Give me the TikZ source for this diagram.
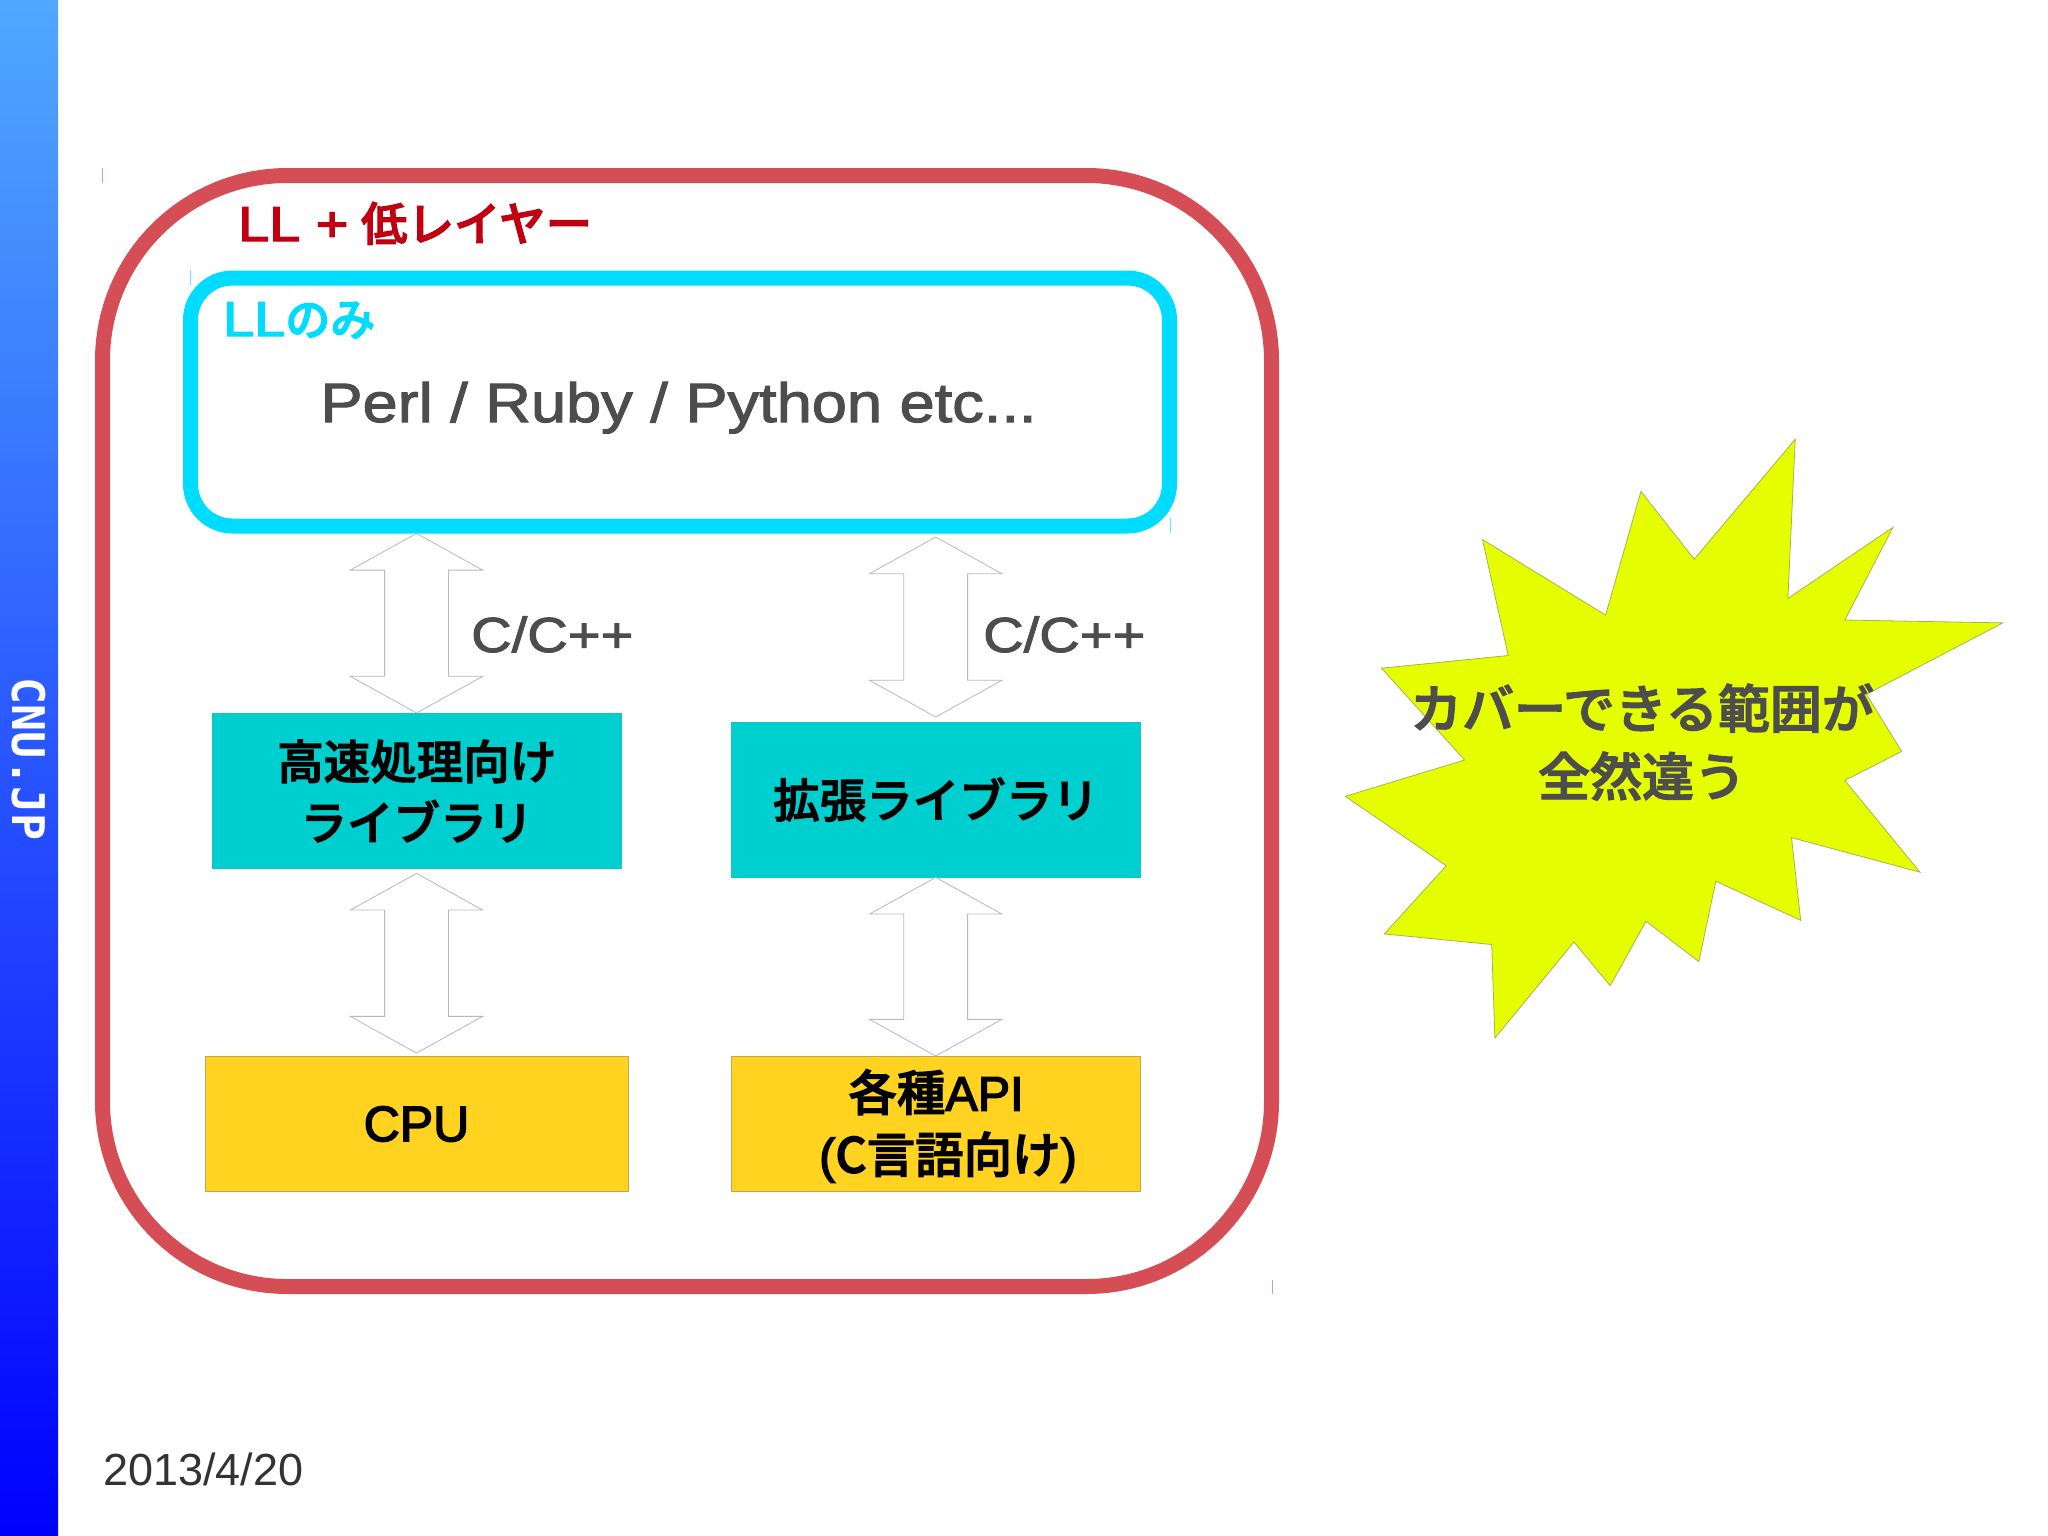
\documentclass[tikz,border=0pt]{standalone}
\usepackage{fontspec}
\setmainfont{Liberation Sans}
\newfontfamily\cjk[FakeBold=2.5]{Noto Sans CJK JP Medium}
\newfontfamily\midsans[FakeBold=3]{Liberation Sans}
\newfontfamily\widesans[FakeStretch=1.14,FakeBold=2]{Liberation Sans}
\newfontfamily\midwide[FakeStretch=1.14,FakeBold=3]{Liberation Sans}
\newfontfamily\barfont{DejaVu Sans Mono}
\usepackage{tikz}
\usetikzlibrary{shapes.arrows}

\definecolor{bartop}{HTML}{50A8FF}
\definecolor{rimred}{HTML}{D64E55}
\definecolor{rimcyan}{HTML}{00DCFF}
\definecolor{labelred}{HTML}{C00010}
\definecolor{tealbox}{HTML}{00CFCF}
\definecolor{yellowbox}{HTML}{FFD320}
\definecolor{burst}{HTML}{E6FF00}
\definecolor{inktext}{HTML}{4D4D4D}

\tikzset{
    frame/.style={draw, rounded corners=#1, inner sep=0pt},
    libbox/.style={draw=tealbox!85!gray, fill=tealbox, line width=1pt, align=center, inner sep=0pt,
        minimum width=409pt, minimum height=155pt, text=black, font=\fontsize{46.5}{61}\selectfont},
    hwbox/.style={draw=gray!50!yellowbox, fill=yellowbox, line width=1pt, inner sep=0pt,
        minimum height=135pt, text=black, font=\fontsize{50}{60}\selectfont\midsans},
    bothway/.style={shape=double arrow, draw=gray!55, fill=white, line width=.8pt, rotate=90,
        inner xsep=0pt, inner ysep=31.5pt, outer sep=0pt,
        minimum width=131.6pt, double arrow head extend=34.3pt, double arrow tip angle=122, minimum height=#1},
    greytext/.style={text=inktext, inner sep=0pt, anchor=base, font=\fontsize{55.4}{66}\selectfont\widesans},
    ticklet/.style={line width=1pt, opacity=.6},
}

\begin{document}
\begin{tikzpicture}[x=1pt,y=-1pt]
    \useasboundingbox (0,0) rectangle (2048,1535);

    \shade[top color=bartop, bottom color=blue] (0,0) rectangle (58,1535);
    \node[rotate=-90, text=white, inner sep=0pt, font=\fontsize{45}{54}\selectfont\bfseries\barfont] (sitename) at (29,759) {CNU.JP};

    % frames
    \node[frame=185pt, draw=rimred, line width=15pt, minimum width=1169pt, minimum height=1111pt] (outer) at (687,731) {};
    \node[frame=42pt, draw=rimcyan, line width=15pt, minimum width=979pt, minimum height=248pt] (inner) at (680,402) {};
    \draw[ticklet, rimred] (102,168) -- (102,183) (1272,1280) -- (1272,1294);
    \draw[ticklet, rimcyan] (190.5,270) -- (190.5,285) (1170,518) -- (1170,533);

    \node[inner sep=0pt, anchor=base west, text=labelred, font=\fontsize{49}{58}\selectfont\midwide] (outerlabel) at (238,241) {LL + \hspace{-3pt}{\fontsize{46.5}{58}\selectfont\cjk 低レイヤー}};
    \node[inner sep=0pt, anchor=base west, text=rimcyan, font=\fontsize{49}{58}\selectfont\midwide] (innerlabel) at (223,336) {LL{\fontsize{45}{58}\selectfont\cjk のみ}};
    \node[greytext] (langs) at (678.5,422) {Perl / Ruby / Python etc...};

    % boxes
    \node[libbox] (speedlib) at (416.8,791) {{\cjk 高速処理向け}\\{\cjk ライブラリ}};
    \node[libbox] (extlib) at (936,799.5) {{\cjk 拡張ライブラリ}};
    \node[hwbox, minimum width=423pt] (cpu) at (416.5,1124) {CPU};
    \node[hwbox, minimum width=409pt] (api) at (936,1124) {};
    \node[align=center, inner sep=0pt, font=\fontsize{48.5}{62}\selectfont\midsans] (apilabel) at (936,1126) {{\cjk 各種}API\\\hspace*{24pt}({\cjk C言語向け})};

    % two way arrows
    \node[bothway=179.6pt] (langstospeed) at (416.5,623.2) {};
    \node[bothway=180pt] (langstoext) at (935.7,627) {};
    \node[bothway=179.7pt] (speedtocpu) at (416.5,963.2) {};
    \node[bothway=178.7pt] (exttoapi) at (935.7,966.7) {};

    \node[greytext, anchor=base west, font=\fontsize{49.2}{60}\selectfont\widesans] (ccleft) at (471,652) {C/C++};
    \node[greytext, anchor=base west, font=\fontsize{49.2}{60}\selectfont\widesans] (ccright) at (983,652) {C/C++};

    % burst
    \filldraw[fill=burst, draw=gray!60!burst, line width=.8pt]
        (1795.2,439.2) -- (1787.9,598.4) -- (1893,527.3) -- (1844.8,620) -- (2002.7,622.9)
        -- (1866.4,694.3) -- (1901.7,751.4) -- (1844.8,780.4) -- (1920,872.2) -- (1791.5,837.6)
        -- (1800.7,920.4) -- (1715.8,881.2) -- (1698.8,961.6) -- (1646,921.2) -- (1610.2,985.7)
        -- (1573.9,942) -- (1494.9,1038) -- (1491.7,944.5) -- (1384.3,933.9) -- (1446.3,865.7)
        -- (1345.3,796.3) -- (1464.6,760) -- (1381.5,668.2) -- (1508.2,655.5) -- (1482.5,539.6)
        -- (1605.6,615.1) -- (1640.9,491.4) -- (1694.2,559.2) -- cycle;
    \node[text=inktext, align=center, inner sep=0pt, font=\fontsize{52}{68}\selectfont] (coverage) at (1642,742) {{\cjk カバーできる範囲が}\\{\cjk 全然違う}};

    \node[inner sep=0pt, anchor=base west, text=black!80, font=\fontsize{45}{52}\selectfont] (datestamp) at (103,1485) {2013/4/20};
\end{tikzpicture}
\end{document}
